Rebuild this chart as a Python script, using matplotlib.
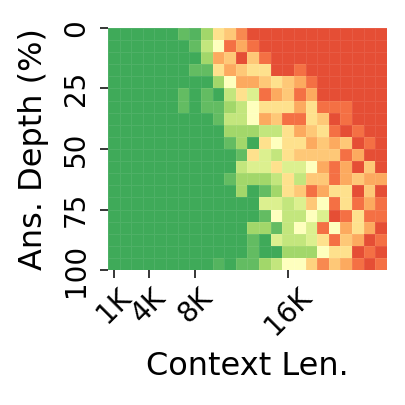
import numpy as np
import matplotlib
matplotlib.use("Agg")
import matplotlib.pyplot as plt
from matplotlib.colors import ListedColormap

# context lengths (K) for each column, answer depth (%) edges for rows
context_k = list(range(1, 25))
depth_edges = np.linspace(0, 100, 21)
xtick_vals = [1, 4, 8, 16]
xtick_labels = ["1K", "4K", "8K", "16K"]
ytick_vals = [0, 25, 50, 75, 100]

# score per cell (0 = fail, 10 = perfect), one list per depth row
row00 = [10, 10, 10, 10, 10, 10, 9.3, 9.6, 7.9, 3.6, 2.9, 1.4, 0, 0, 0, 0, 0, 0, 0, 0, 0, 0, 0, 0]
row01 = [10, 10, 10, 10, 10, 10, 10, 9.3, 7.0, 5.0, 0.8, 2.1, 0.8, 0, 0, 0, 0, 0, 0, 0, 0, 0, 0, 0]
row02 = [10, 10, 10, 10, 10, 10, 10, 10, 7.9, 2.1, 2.9, 0, 2.9, 0.8, 0, 0, 0, 0, 0, 0, 0, 0, 0, 0]
row03 = [10, 10, 10, 10, 10, 10, 10, 9.3, 9.3, 3.6, 2.1, 2.9, 3.6, 3.6, 0, 0, 0.8, 0, 0, 0, 0, 0, 0, 0]
row04 = [10, 10, 10, 10, 10, 10, 10, 10, 10, 7.9, 5.0, 2.1, 2.1, 2.9, 3.6, 2.9, 2.1, 0.8, 0, 0, 0, 0, 0, 0]
row05 = [10, 10, 10, 10, 10, 10, 9.3, 10, 9.3, 10, 7.0, 3.6, 6.3, 0.8, 2.1, 2.9, 0.8, 2.1, 0, 0, 0, 0, 0, 0]
row06 = [10, 10, 10, 10, 10, 10, 9.3, 10, 9.3, 9.3, 7.9, 7.0, 5.0, 3.6, 3.6, 3.6, 2.1, 3.6, 0.8, 0.8, 0.8, 0, 0, 0]
row07 = [10, 10, 10, 10, 10, 10, 10, 10, 10, 9.3, 7.0, 7.0, 5.0, 2.1, 2.9, 0.8, 0.8, 3.6, 2.9, 0, 0.8, 0, 0, 0]
row08 = [10, 10, 10, 10, 10, 10, 10, 10, 10, 10, 7.9, 7.9, 7.9, 7.0, 7.0, 3.6, 2.1, 2.9, 3.6, 0.8, 0, 0.8, 0, 0]
row09 = [10, 10, 10, 10, 10, 10, 10, 10, 10, 10, 9.3, 7.9, 10, 3.6, 5.0, 3.6, 3.6, 2.1, 2.9, 2.1, 2.9, 0, 0.8, 0]
row10 = [10, 10, 10, 10, 10, 10, 10, 10, 10, 10, 10, 9.3, 3.6, 6.3, 7.0, 3.6, 2.9, 2.9, 2.9, 2.9, 0.8, 2.1, 0, 0]
row11 = [10, 10, 10, 10, 10, 10, 10, 10, 10, 10, 10, 7.0, 6.3, 6.3, 3.6, 6.3, 6.3, 5.0, 2.1, 0.8, 2.1, 0, 2.9, 0]
row12 = [10, 10, 10, 10, 10, 10, 10, 10, 10, 10, 9.3, 7.9, 7.9, 7.9, 7.0, 3.6, 7.0, 2.9, 2.9, 0.8, 2.1, 2.9, 2.1, 2.1]
row13 = [10, 10, 10, 10, 10, 10, 10, 10, 10, 10, 10, 7.9, 10, 9.3, 7.9, 3.6, 2.9, 0.8, 2.1, 3.6, 3.6, 0, 2.9, 0]
row14 = [10, 10, 10, 10, 10, 10, 10, 10, 10, 10, 10, 10, 10, 6.3, 6.3, 7.0, 6.3, 2.9, 5.0, 0.8, 3.6, 0.8, 2.1, 0.8]
row15 = [10, 10, 10, 10, 10, 10, 10, 10, 10, 10, 10, 10, 10, 9.3, 5.0, 7.0, 7.0, 5.0, 6.3, 0, 0.8, 3.6, 0.8, 0.8]
row16 = [10, 10, 10, 10, 10, 10, 10, 10, 10, 10, 10, 10, 7.9, 7.9, 9.3, 7.0, 5.0, 6.3, 0.8, 5.0, 2.1, 3.6, 2.1, 0]
row17 = [10, 10, 10, 10, 10, 10, 10, 10, 10, 10, 10, 10, 9.3, 10, 6.3, 7.0, 7.0, 6.3, 3.6, 0.8, 2.9, 2.1, 0, 0.8]
row18 = [10, 10, 10, 10, 10, 10, 10, 10, 10, 10, 10, 10, 9.3, 10, 10, 7.9, 7.9, 7.9, 5.0, 3.6, 3.6, 0, 0.8, 0]
row19 = [10, 10, 10, 10, 10, 10, 10, 10, 10, 9.6, 10, 9.3, 9.3, 7.9, 7.0, 5.0, 5.0, 3.2, 1.4, 2.9, 2.1, 0.8, 0, 0.8]

scores = np.array([row00, row01, row02, row03, row04, row05, row06, row07, row08, row09,
                   row10, row11, row12, row13, row14, row15, row16, row17, row18, row19])

# RdYlGn, trimmed at both ends
cmap = ListedColormap(plt.cm.RdYlGn(np.linspace(0.15, 0.85, 256)))

fig = plt.figure(figsize=(4.06, 4.05), dpi=100)
ax = fig.add_axes([0.266, 0.333, 0.687, 0.598])

x_edges = np.arange(0.5, 25.5, 1.0)
ax.pcolormesh(x_edges, depth_edges, scores, cmap=cmap, vmin=0, vmax=10,
              edgecolor=(1, 1, 1, 0.08), linewidth=0.4)
ax.set_xlim(0.5, 24.5)
ax.set_ylim(100, 0)

for s in ax.spines.values():
    s.set_visible(False)

ax.set_xticks(xtick_vals)
ax.set_xticklabels(xtick_labels, rotation=45, ha="center", fontsize=20)
ax.set_yticks(ytick_vals)
ax.set_yticklabels([str(v) for v in ytick_vals], rotation=90, va="center", fontsize=20)
ax.tick_params(length=6, width=1.1)
ax.tick_params(axis="y", pad=7)
ax.tick_params(axis="x", pad=3)

ax.set_xlabel("Context Len.", fontsize=23, labelpad=8)
ax.set_ylabel("Ans. Depth (%)", fontsize=23, labelpad=9)

fig.savefig("out.png", dpi=100)
